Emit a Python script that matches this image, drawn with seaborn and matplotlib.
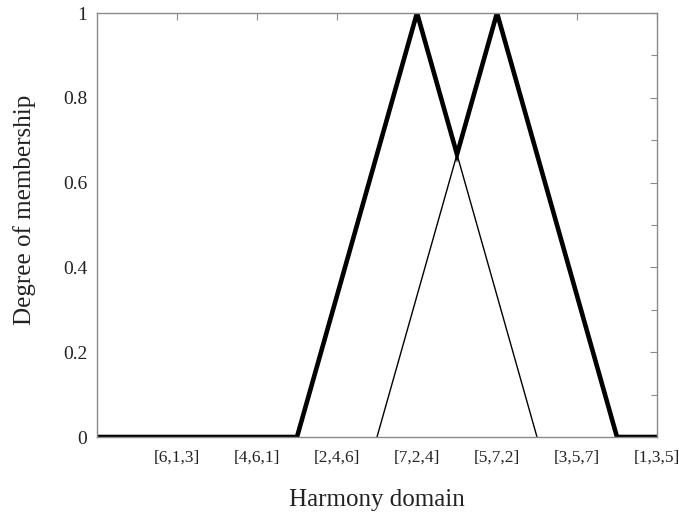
import matplotlib
matplotlib.use("Agg")
import matplotlib.pyplot as plt
from matplotlib.ticker import MultipleLocator
import seaborn as sns
import pandas as pd

# Harmony triads along the domain axis
tick_positions = [1, 2, 3, 4, 5, 6, 7]
tick_labels = ["[6,1,3]", "[4,6,1]", "[2,4,6]", "[7,2,4]", "[5,7,2]", "[3,5,7]", "[1,3,5]"]

# Two triangular membership functions
tri_a_x = [2.5, 4.0, 5.5]
tri_a_y = [0.0, 1.0, 0.0]
tri_b_x = [3.5, 5.0, 6.5]
tri_b_y = [0.0, 1.0, 0.0]

# Aggregated (max) membership
union_x = [0.0, 2.5, 4.0, 4.5, 5.0, 6.5, 7.0]
union_y = [0.0, 0.0, 1.0, 2 / 3, 1.0, 0.0, 0.0]

sns.set_style("white")
plt.rcParams["font.family"] = ["Liberation Serif", "DejaVu Serif"]

fig = plt.figure(figsize=(6.79, 5.13), dpi=100)
ax = fig.add_axes([97 / 679, 1 - 437 / 513, (657 - 97) / 679, (437 - 13) / 513])

df_a = pd.DataFrame({"x": tri_a_x, "y": tri_a_y})
df_b = pd.DataFrame({"x": tri_b_x, "y": tri_b_y})
df_u = pd.DataFrame({"x": union_x, "y": union_y})

sns.lineplot(data=df_a, x="x", y="y", sort=False, color="black", linewidth=1.0, ax=ax)
sns.lineplot(data=df_b, x="x", y="y", sort=False, color="black", linewidth=1.0, ax=ax)
sns.lineplot(data=df_u, x="x", y="y", sort=False, color="black", linewidth=3.3, ax=ax,
             solid_joinstyle="miter", clip_on=True)

ax.set_xlim(0, 7)
ax.set_ylim(0, 1)
ax.set_xticks(tick_positions)
ax.set_xticklabels(tick_labels)
ax.set_yticks([0, 0.2, 0.4, 0.6, 0.8, 1])
ax.set_yticklabels(["0", "0.2", "0.4", "0.6", "0.8", "1"])
ax.yaxis.set_minor_locator(MultipleLocator(0.1))

spine_color = "#8a8a8a"
for s in ax.spines.values():
    s.set_visible(True)
    s.set_color(spine_color)
    s.set_linewidth(1.0)

ax.tick_params(axis="both", which="both", direction="in", color=spine_color,
               top=True, right=True, labelcolor="#222222")
ax.tick_params(axis="x", which="major", length=5, width=0.8, pad=9, labelsize=12.5)
ax.tick_params(axis="y", which="major", length=5, width=0.8, pad=7, labelsize=14)
ax.tick_params(axis="y", which="minor", length=4, width=0.8)
ax.tick_params(axis="x", which="minor", bottom=False, top=False)

ax.set_xlabel("Harmony domain", fontsize=18, labelpad=17, color="#222222")
ax.set_ylabel("Degree of membership", fontsize=18, color="#222222")
ax.yaxis.set_label_coords((36 - 97) / 560, (437 - 210) / 424)

fig.savefig("out.png", dpi=100)
